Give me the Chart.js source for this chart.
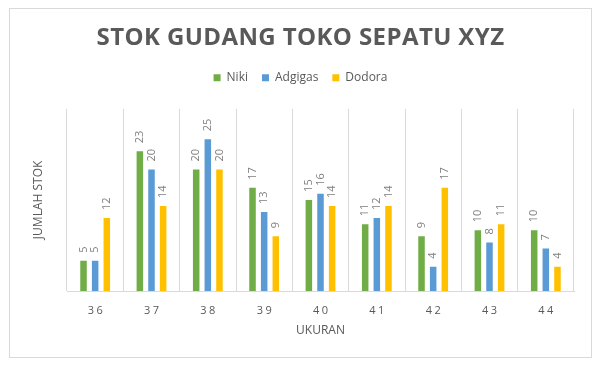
<!DOCTYPE html>
<html><head><meta charset="utf-8">
<script src="https://cdn.jsdelivr.net/npm/chart.js@4.4.0/dist/chart.umd.min.js"></script>
<style>html,body{margin:0;padding:0;background:#fff;}canvas{display:block;}</style>
</head><body>
<canvas id="c" width="600" height="365"></canvas>
<script>
const categories = ['36','37','38','39','40','41','42','43','44'];
const niki = [5,23,20,17,15,11,9,10,10];
const adgigas = [5,20,25,13,16,12,4,8,7];
const dodora = [12,14,20,9,14,14,17,11,4];
const seriesNames = ['Niki','Adgigas','Dodora'];
const seriesColors = ['#70AD47','#5B9BD5','#FFC000'];
const chartTitle = 'STOK GUDANG TOKO SEPATU XYZ';
const xTitle = 'UKURAN';
const yTitle = 'JUMLAH STOK';

const TXT = '#595959';

const framePlugin = {
  id: 'frame',
  beforeDraw(chart) {
    const c = chart.ctx;
    c.save();
    c.fillStyle = '#ffffff';
    c.fillRect(0, 0, chart.width, chart.height);
    c.strokeStyle = '#d9d9d9';
    c.lineWidth = 1;
    c.strokeRect(9.5, 8.5, 582, 349);
    c.restore();
  }
};

const legendGapPlugin = {
  id: 'legendGap',
  beforeUpdate(chart) {
    const lg = chart.legend;
    if (lg && !lg._ext) {
      const f = lg.fit.bind(lg);
      lg.fit = function() { f(); this.height += 15; };
      lg._ext = true;
    }
  }
};

const spacingPlugin = {
  id: 'spacing',
  afterLayout(chart) {
    const t = chart.titleBlock;
    if (t && !t._ls) {
      const d = t.draw.bind(t);
      t.draw = function(a) { const c = this.ctx; c.save(); c.letterSpacing = '0.4px'; d(a); c.restore(); };
      t._ls = true;
    }
    const s = chart.scales.x;
    if (s && !s._ls) {
      const d = s.drawLabels.bind(s);
      s.drawLabels = function(a) { const c = this.ctx; c.save(); c.letterSpacing = '2.5px'; c.translate(1.25, 0); d(a); c.restore(); };
      s._ls = true;
    }
  }
};

const labelPlugin = {
  id: 'barLabels',
  afterDatasetsDraw(chart) {
    const c = chart.ctx;
    c.save();
    c.font = '11px "Open Sans"';
    c.fillStyle = '#7f7f7f';
    c.textAlign = 'left';
    c.textBaseline = 'middle';
    chart.data.datasets.forEach((ds, di) => {
      const meta = chart.getDatasetMeta(di);
      meta.data.forEach((el, i) => {
        c.save();
        c.translate(el.x, el.y - 8);
        c.rotate(-Math.PI / 2);
        c.fillText(String(ds.data[i]), 0, 0);
        c.restore();
      });
    });
    c.restore();
  }
};

new Chart(document.getElementById('c'), {
  type: 'bar',
  data: {
    labels: categories,
    datasets: [niki, adgigas, dodora].map((d, i) => ({
      label: seriesNames[i],
      data: d,
      backgroundColor: seriesColors[i],
      borderWidth: 0,
      categoryPercentage: 0.62,
      barPercentage: 0.56
    }))
  },
  options: {
    responsive: false,
    animation: false,
    devicePixelRatio: 1,
    layout: { padding: { left: 27, right: 26, top: 10, bottom: 23 } },
    plugins: {
      title: {
        display: true,
        text: chartTitle,
        color: TXT,
        font: { family: '"Open Sans"', size: 24, weight: 'bold', lineHeight: 1.2 },
        padding: { top: 14, bottom: 5 }
      },
      legend: {
        display: true,
        position: 'top',
        labels: {
          color: TXT,
          font: { family: '"Open Sans"', size: 12 },
          boxWidth: 7,
          boxHeight: 7,
          padding: 14
        }
      },
      tooltip: { enabled: false }
    },
    scales: {
      x: {
        grid: { display: true, color: '#d9d9d9', offset: true, drawTicks: false },
        border: { display: true, color: '#d9d9d9' },
        ticks: { color: TXT, font: { family: '"Open Sans"', size: 11 }, padding: 13.5 },
        title: {
          display: true, text: xTitle, color: TXT,
          font: { family: '"Open Sans"', size: 12 },
          padding: { top: 8, bottom: 4 }
        },
        afterFit(scale) { scale.height = 51; }
      },
      y: {
        min: 0, max: 30,
        grid: { display: false },
        border: { display: false },
        ticks: { display: false },
        title: {
          display: true, text: yTitle, color: TXT,
          font: { family: '"Open Sans"', size: 12 },
          padding: { top: 4, bottom: 4 }
        },
        afterFit(scale) { scale.width = 40; }
      }
    }
  },
  plugins: [framePlugin, legendGapPlugin, spacingPlugin, labelPlugin]
});
</script>
</body></html>
